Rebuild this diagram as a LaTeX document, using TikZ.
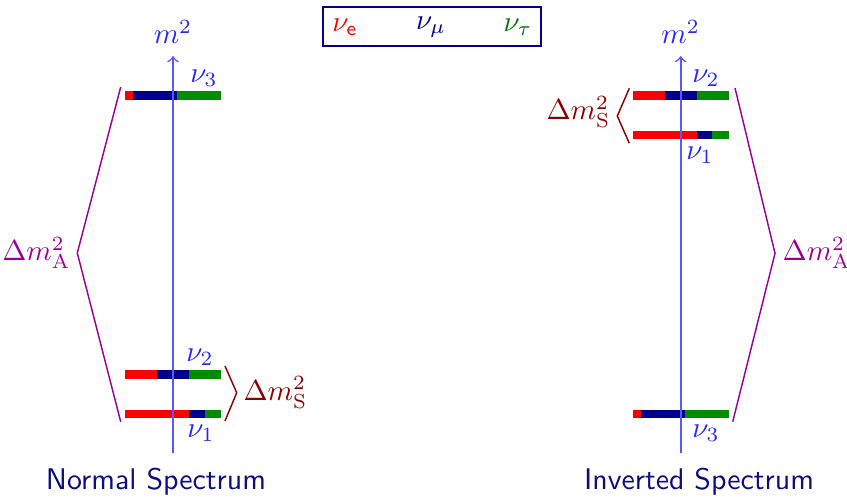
\documentclass[tikz,border=0pt]{standalone}
\definecolor{nured}{rgb}{1,0,0}
\definecolor{nunavy}{rgb}{0,0,0.55}
\definecolor{nugreen}{rgb}{0,0.55,0}
\definecolor{nutau}{rgb}{0,0.45,0}
\definecolor{axisblue}{rgb}{0.35,0.35,1}
\definecolor{labblue}{rgb}{0.15,0.15,1}
\definecolor{solred}{rgb}{0.55,0,0}
\definecolor{atmpurple}{rgb}{0.6,0,0.6}
\definecolor{titlenavy}{rgb}{0.05,0.05,0.5}
\newcommand\nubar[5]{%
  \fill[nured] (#2,#1-4.3) rectangle (#3,#1+4.3);
  \fill[nunavy] (#3,#1-4.3) rectangle (#4,#1+4.3);
  \fill[nugreen] (#4,#1-4.3) rectangle (#5,#1+4.3);}
\begin{document}
\begin{tikzpicture}[x=0.345pt,y=-0.345pt,
  axis/.style={draw=axisblue,line width=0.55pt,->},
  nulab/.style={text=labblue,inner sep=0pt},
  sollab/.style={text=solred,inner sep=0pt},
  atmlab/.style={text=atmpurple,inner sep=0pt},
  solbr/.style={draw=solred,line width=0.5pt},
  atmbr/.style={draw=atmpurple,line width=0.5pt},
  title/.style={text=titlenavy,font=\sffamily\fontsize{10.3}{12}\selectfont,inner sep=0pt},
  legbox/.style={draw=nunavy,line width=1pt}]
\useasboundingbox (0,0) rectangle (847,496);
% legend
\draw[legbox] (323,7) rectangle (541,46);
\node (le) at (345,27) {$\color{nured}\nu_{\mathsf{e}}$};
\node (lm) at (431,27) {$\color{nunavy}\nu_{\mu}$};
\node (lt) at (518,27) {$\color{nutau}\nu_{\tau}$};
% ---------- Normal spectrum ----------
\coordinate (La0) at (173,453);
\coordinate (La1) at (173,56);
\nubar{95.5}{125}{133.3}{177.3}{220.7}
\nubar{374.3}{125}{157.3}{189}{220.7}
\nubar{414}{125}{189}{205.3}{220.7}
\draw[axis] (La0) -- (La1);
\node[nulab,anchor=south] (Lm) at (La1) [yshift=4pt] {$m^2$};
\node[nulab] (Ln3) at (204,78) {$\nu_3$};
\node[nulab] (Ln2) at (200,357) {$\nu_2$};
\node[nulab] (Ln1) at (201,433) {$\nu_1$};
\coordinate (LSt) at (225,366);
\coordinate (LSv) at (236.7,392.7);
\coordinate (LSb) at (225,421);
\draw[solbr] (LSt) -- (LSv) -- (LSb);
\node[sollab,anchor=west] (LS) at (243,392.7) {$\Delta m^2_{\mathrm{S}}$};
\coordinate (LAt) at (120.7,87);
\coordinate (LAv) at (77.3,253);
\coordinate (LAb) at (120.7,421.7);
\draw[atmbr] (LAt) -- (LAv) -- (LAb);
\node[atmlab,anchor=east] (LA) at (71,253) {$\Delta m^2_{\mathrm{A}}$};
\node[title] (LT) at (156,482) {Normal Spectrum};
% ---------- Inverted spectrum ----------
\coordinate (Ra0) at (680.7,453);
\coordinate (Ra1) at (680.7,56);
\nubar{95.5}{633.3}{665}{696.7}{728.7}
\nubar{135}{633.3}{696.7}{712.3}{728.7}
\nubar{414}{633.3}{641}{685}{728.7}
\draw[axis] (Ra0) -- (Ra1);
\node[nulab,anchor=south] (Rm) at (Ra1) [yshift=4pt] {$m^2$};
\node[nulab] (Rn2) at (706,78) {$\nu_2$};
\node[nulab] (Rn1) at (700,155) {$\nu_1$};
\node[nulab] (Rn3) at (706,433) {$\nu_3$};
\coordinate (RSt) at (629.3,88.3);
\coordinate (RSv) at (617.3,116);
\coordinate (RSb) at (629.3,143.3);
\draw[solbr] (RSt) -- (RSv) -- (RSb);
\node[sollab,anchor=east] (RS) at (611,112) {$\Delta m^2_{\mathrm{S}}$};
\coordinate (RAt) at (735,88);
\coordinate (RAv) at (775,253.3);
\coordinate (RAb) at (732.7,421.7);
\draw[atmbr] (RAt) -- (RAv) -- (RAb);
\node[atmlab,anchor=west] (RA) at (782,253) {$\Delta m^2_{\mathrm{A}}$};
\node[title] (RT) at (699,482) {Inverted Spectrum};
\end{tikzpicture}
\end{document}
